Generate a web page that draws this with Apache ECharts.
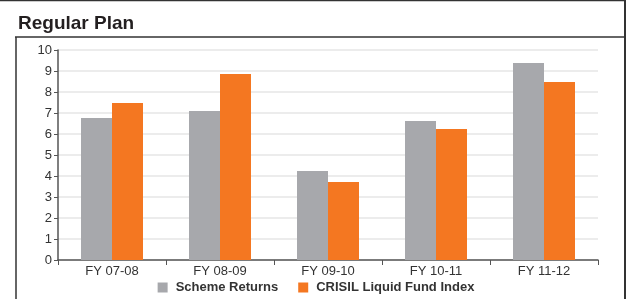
<!DOCTYPE html>
<html><head><meta charset="utf-8">
<script src="https://cdn.jsdelivr.net/npm/echarts@6/dist/echarts.min.js"></script>
<style>html,body{margin:0;padding:0;background:#fff}#c{width:632px;height:299px}</style>
</head><body><div id="c"></div>
<script>
const categories = ['FY 07-08','FY 08-09','FY 09-10','FY 10-11','FY 11-12'];
const schemeReturns = [6.76, 7.1, 4.24, 6.62, 9.38];
const crisilIndex = [7.48, 8.86, 3.71, 6.24, 8.48];
const yTicks = [0,1,2,3,4,5,6,7,8,9,10];
const titleText = 'Regular Plan';

const chart = echarts.init(document.getElementById('c'), null, {renderer:'canvas'});
chart.setOption({
  animation:false,
  backgroundColor:'#fff',
  title:{text:titleText,left:13,top:9,textStyle:{fontFamily:'Liberation Sans, Arial, sans-serif',fontSize:19,fontWeight:'bold',color:'#231f20'}},
  graphic:[
    {type:'line',shape:{x1:0,y1:0.5,x2:626,y2:0.5},style:{stroke:'#333',lineWidth:1.5}},
    {type:'line',shape:{x1:625,y1:0,x2:625,y2:299},style:{stroke:'#333',lineWidth:2}},
    {type:'line',shape:{x1:15,y1:37,x2:625,y2:37},style:{stroke:'#333',lineWidth:1.5}},
    {type:'line',shape:{x1:16,y1:37,x2:16,y2:299},style:{stroke:'#333',lineWidth:1.5}}
  ],
  grid:{left:58,right:34,top:50,bottom:39,containLabel:false},
  legend:{bottom:0,left:'center',itemWidth:10,itemHeight:10,itemGap:20,icon:'rect',
    textStyle:{fontFamily:'Liberation Sans, Arial, sans-serif',fontSize:13,fontWeight:'bold',color:'#333',padding:[0,0,0,3]},
    data:['Scheme Returns','CRISIL Liquid Fund Index']},
  xAxis:{type:'category',data:categories,
    axisLine:{lineStyle:{color:'#555',width:1.5}},
    axisTick:{show:true,length:5,interval:0,lineStyle:{color:'#555'}},
    axisLabel:{fontFamily:'Liberation Sans, Arial, sans-serif',fontSize:13,color:'#333',margin:5}},
  yAxis:{type:'value',min:0,max:10,interval:1,
    axisLine:{show:true,lineStyle:{color:'#555',width:1.5}},
    axisTick:{show:true,length:4,lineStyle:{color:'#555'}},
    axisLabel:{fontFamily:'Liberation Sans, Arial, sans-serif',fontSize:13,color:'#333',margin:6,
      formatter:v=>yTicks.includes(v)?String(v):''},
    splitLine:{show:true,lineStyle:{color:'#e6e6e6',width:1.5}}},
  series:[
    {name:'Scheme Returns',type:'bar',data:schemeReturns,barWidth:31,barGap:'0%',itemStyle:{color:'#a7a8ac'}},
    {name:'CRISIL Liquid Fund Index',type:'bar',data:crisilIndex,barWidth:31,barGap:'0%',itemStyle:{color:'#f47721'}}
  ]
});
</script></body></html>
